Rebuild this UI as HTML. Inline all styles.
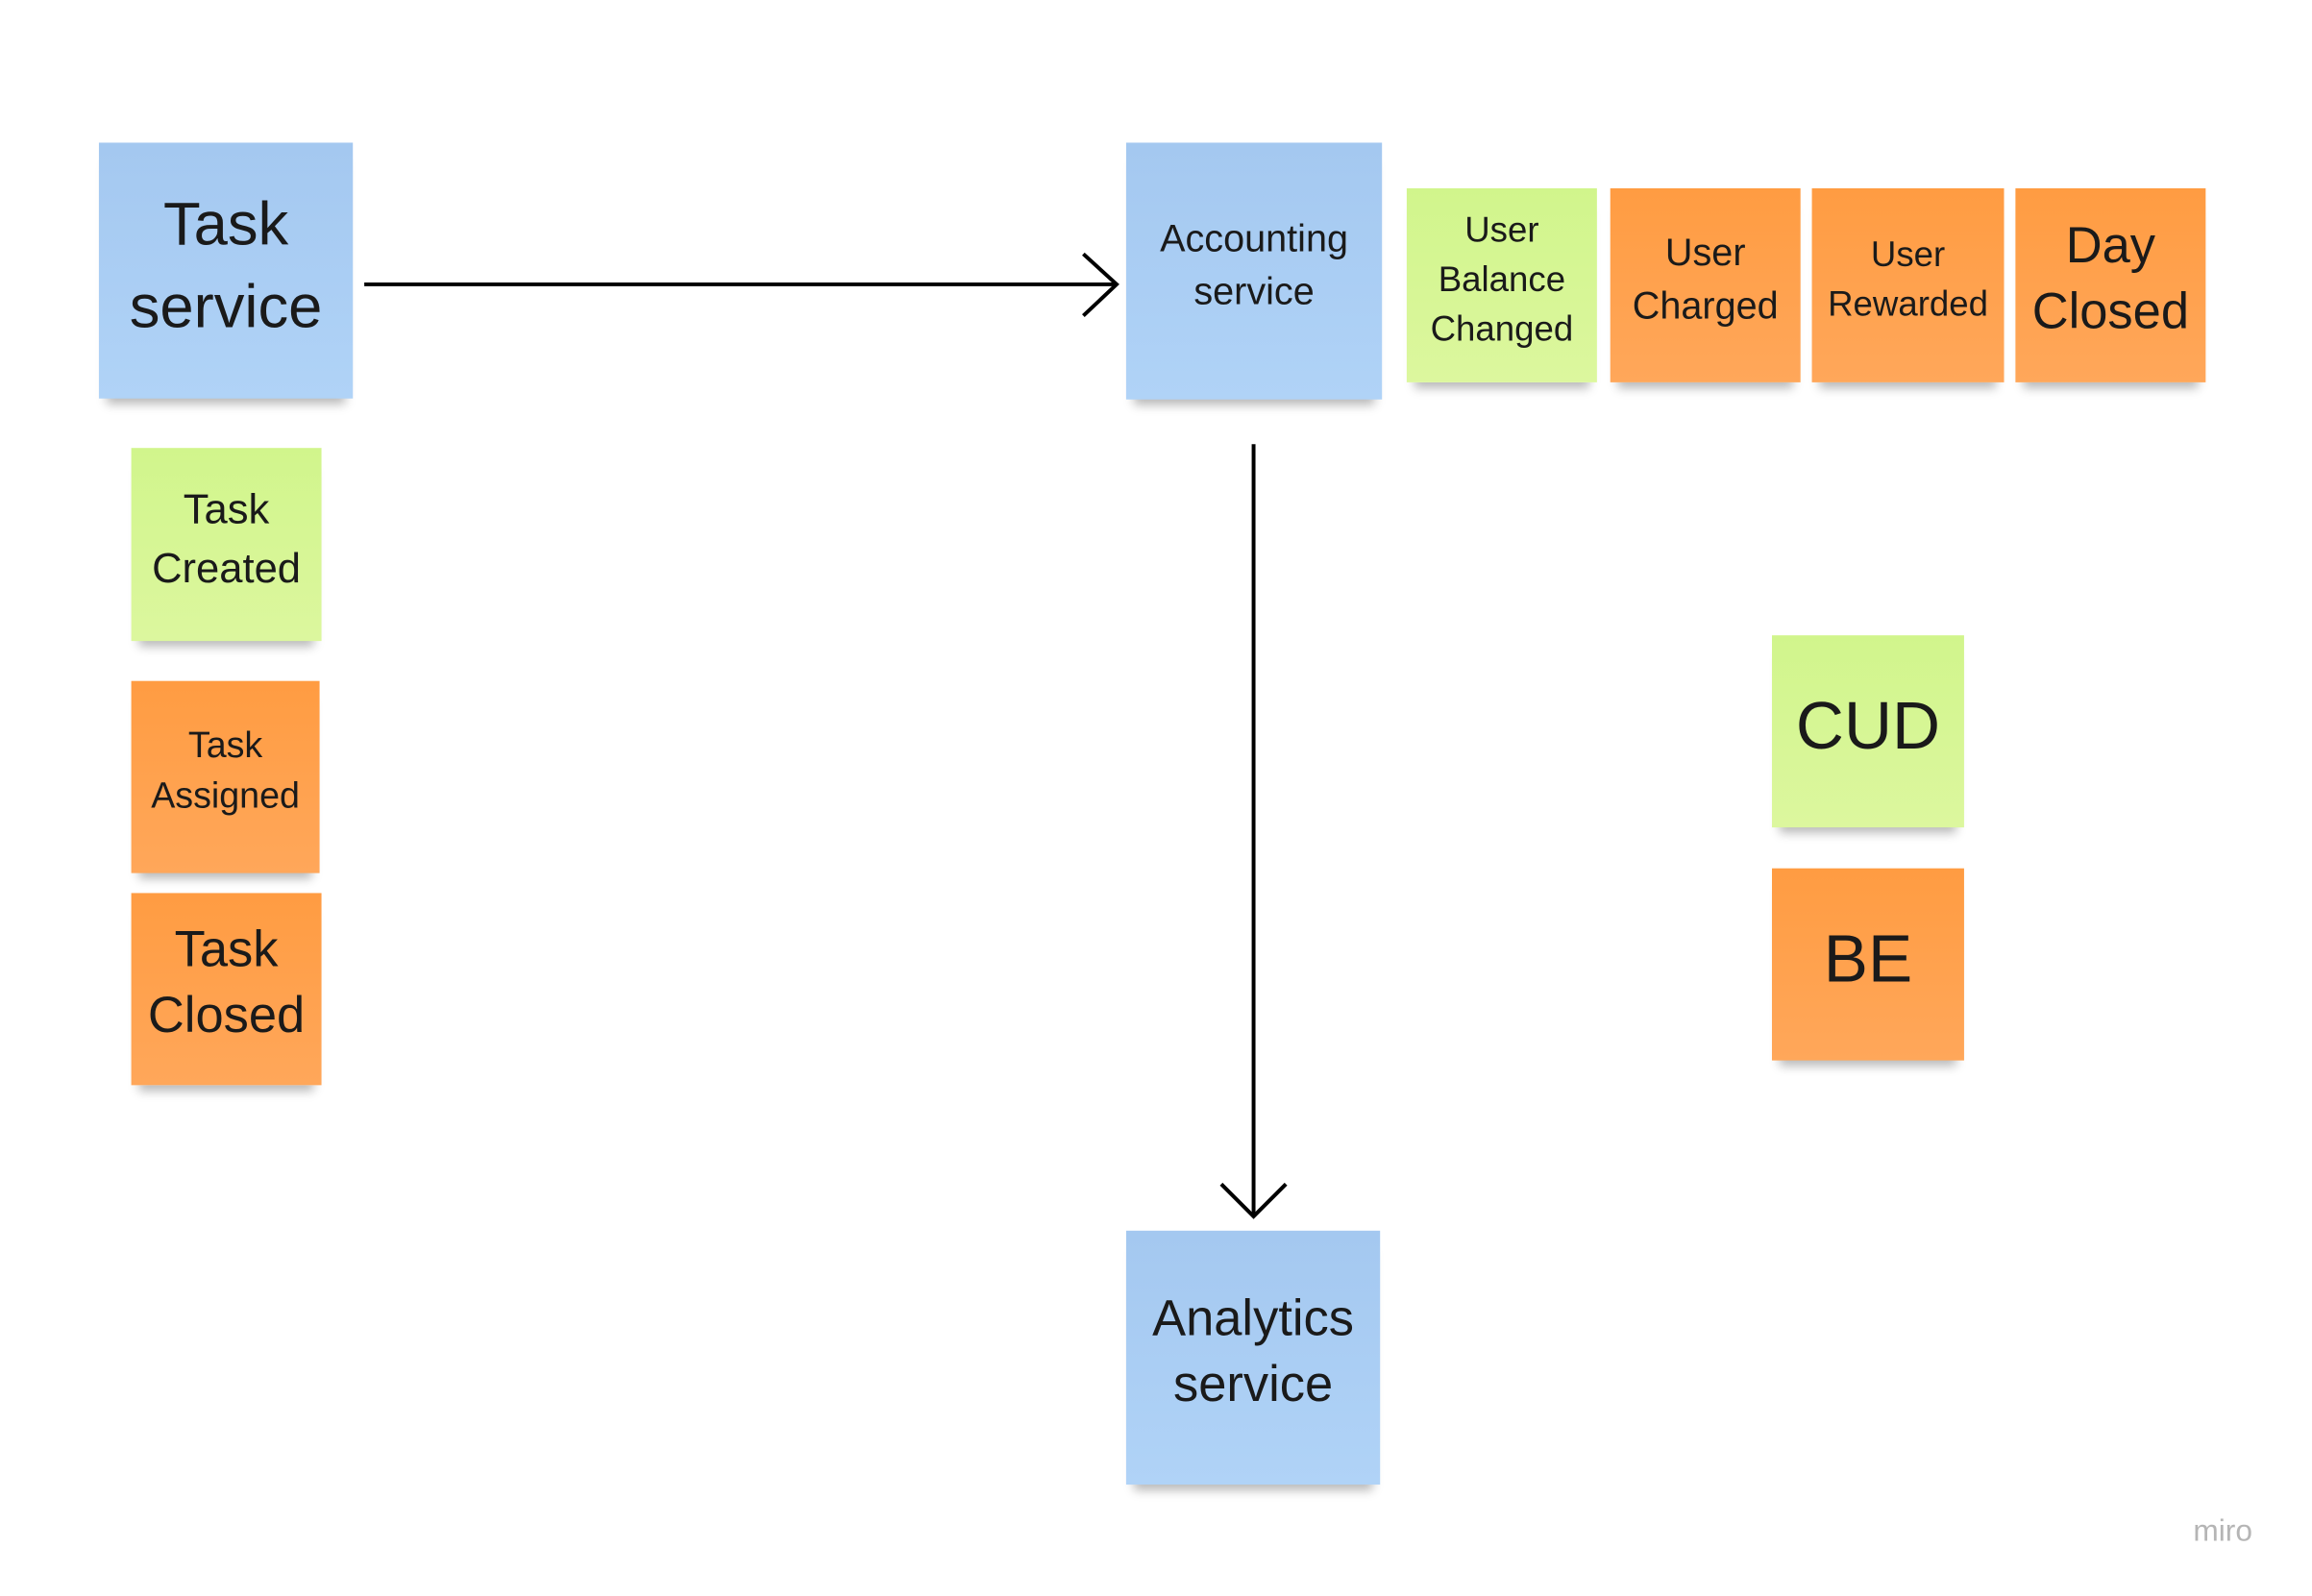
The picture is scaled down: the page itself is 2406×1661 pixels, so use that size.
<!DOCTYPE html>
<html><head><meta charset="utf-8"><style>
html,body{margin:0;padding:0;background:#fff;}
body{width:2406px;height:1661px;position:relative;overflow:hidden;font-family:"Liberation Sans","DejaVu Sans",sans-serif;color:#1a1a1a;}
#w{position:absolute;left:0;top:0;width:2406px;height:1661px;transform:scale(0.9898);transform-origin:0 0;}
.n{position:absolute;display:flex;align-items:center;justify-content:center;text-align:center;line-height:1.4;box-shadow:0 14px 10px -8px rgba(0,0,0,0.28);box-sizing:border-box;padding-bottom:12px;}
.b{background:linear-gradient(#a4c8f0,#b0d3f7);}
.g{background:linear-gradient(#d1f58c,#dcf79e);}
.o{background:linear-gradient(#ff9c42,#ffa75a);}
</style></head><body>
<div id="w">
<div class="n b" style="left:104px;top:150px;width:267px;height:269px;font-size:64px;line-height:1.35">Task<br>service</div>
<div class="n b" style="left:1184px;top:150px;width:269px;height:270px;font-size:40px">Accounting<br>service</div>
<div class="n g" style="left:1479px;top:198px;width:200px;height:204px;font-size:37px">User<br>Balance<br>Changed</div>
<div class="n o" style="left:1693px;top:198px;width:200px;height:204px;font-size:40px">User<br>Charged</div>
<div class="n o" style="left:1905px;top:198px;width:202px;height:204px;font-size:37px">User<br>Rewarded</div>
<div class="n o" style="left:2119px;top:198px;width:200px;height:204px;font-size:53px;line-height:1.3">Day<br>Closed</div>
<div class="n g" style="left:138px;top:471px;width:200px;height:203px;font-size:44px">Task<br>Created</div>
<div class="n o" style="left:138px;top:716px;width:198px;height:202px;font-size:38px">Task<br>Assigned</div>
<div class="n o" style="left:138px;top:939px;width:200px;height:202px;font-size:53px;line-height:1.3">Task<br>Closed</div>
<div class="n g" style="left:1863px;top:668px;width:202px;height:202px;font-size:70px">CUD</div>
<div class="n o" style="left:1863px;top:913px;width:202px;height:202px;font-size:70px">BE</div>
<div class="n b" style="left:1184px;top:1294px;width:267px;height:267px;font-size:53px;line-height:1.3">Analytics<br>service</div>
<svg style="position:absolute;left:0;top:0" width="2406" height="1661">
<g stroke="#000" stroke-width="4" fill="none">
<line x1="383" y1="299" x2="1172" y2="299"/>
<polyline points="1139,267 1174,299 1139,332"/>
<line x1="1318" y1="467" x2="1318" y2="1277"/>
<polyline points="1284,1245 1318,1279 1352,1245"/>
</g>
<text x="2337" y="1620" font-family="Liberation Sans,sans-serif" font-size="32" fill="#b5b5b5" text-anchor="middle">miro</text>
</svg>
</div>
</body></html>
